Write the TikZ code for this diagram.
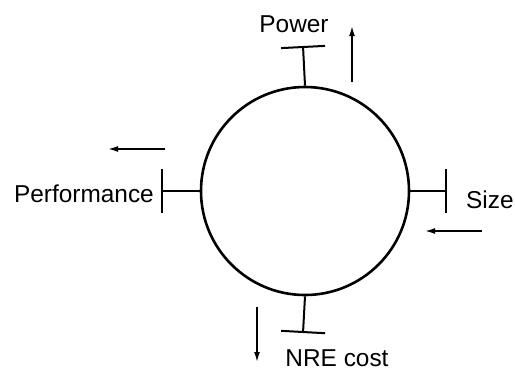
\documentclass[tikz,border=0pt]{standalone}
\usepackage{fontspec}
\setmainfont{Liberation Sans}
\usetikzlibrary{arrows.meta,positioning}
\tikzset{
  lbl/.style={font=\fontsize{24.5}{28}\selectfont, inner sep=0pt},
  tbar/.style={line width=2bp, -{Bar[width=44bp,line width=2bp]}},
  trend/.style={line width=1.6bp, -{Latex[length=10bp,width=6bp]}}
}
\begin{document}
\begin{tikzpicture}[x=1bp, y=-1bp]
  \useasboundingbox (0,0) rectangle (515,371);

  %% --- SYSTEM (circle) ---
  \node[draw, circle, line width=2.6bp, minimum size=208bp, inner sep=0pt] (sys) at (305,191) {};

  %% --- CONSTRAINT BARS ---
  \coordinate (pwrT)  at (303,46);
  \coordinate (perfT) at (161,191);
  \coordinate (sizeT) at (447,191);
  \coordinate (nreT)  at (303,333);
  \draw[tbar] (sys.north) -- (pwrT);
  \draw[tbar] (sys.west)  -- (perfT);
  \draw[tbar] (sys.east)  -- (sizeT);
  \draw[tbar] (sys.south) -- (nreT);

  %% --- LABELS ---
  \node[lbl] (pwr)  at (294,24)          {Power};
  \node[lbl, anchor=east] (perf) at (154,194) {Performance};
  \node[lbl, anchor=west] (size) at (466,200) {Size};
  \node[lbl] (nre)  at (337,358)         {NRE cost};

  %% --- TREND ARROWS ---
  \coordinate (pwrA)  at (352,82);  \coordinate (pwrB)  at (352,26);
  \coordinate (perfA) at (165,149); \coordinate (perfB) at (108,149);
  \coordinate (sizeA) at (482,231); \coordinate (sizeB) at (425,231);
  \coordinate (nreA)  at (257,307); \coordinate (nreB)  at (257,362);
  \draw[trend] (pwrA)  -- (pwrB);
  \draw[trend] (perfA) -- (perfB);
  \draw[trend] (sizeA) -- (sizeB);
  \draw[trend] (nreA)  -- (nreB);
\end{tikzpicture}
\end{document}
